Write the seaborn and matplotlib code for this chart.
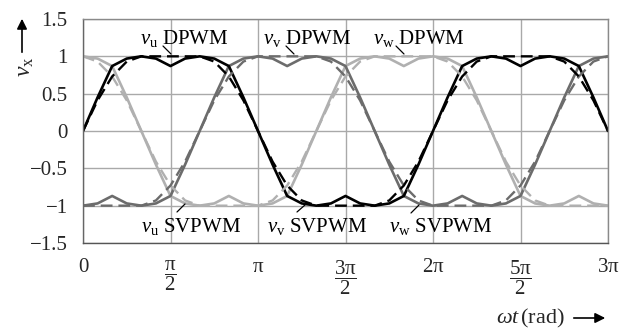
import numpy as np
import pandas as pd
import matplotlib
matplotlib.use("Agg")
import matplotlib.pyplot as plt
import seaborn as sns

angle_deg = list(range(0, 541, 15))

svpwm_u = [0, .45, .87, .97, 1, .97, .87, .97, 1, .97, .87, .45, 0, -.45, -.87, -.97, -1, -.97, -.87,
           -.97, -1, -.97, -.87, -.45, 0, .45, .87, .97, 1, .97, .87, .97, 1, .97, .87, .45, 0]
svpwm_v = [-1, -.97, -.87, -.97, -1, -.97, -.87, -.45, 0, .45, .87, .97, 1, .97, .87, .97, 1, .97, .87,
           .45, 0, -.45, -.87, -.97, -1, -.97, -.87, -.97, -1, -.97, -.87, -.45, 0, .45, .87, .97, 1]
svpwm_w = [1, .97, .87, .45, 0, -.45, -.87, -.97, -1, -.97, -.87, -.97, -1, -.97, -.87, -.45, 0, .45, .87,
           .97, 1, .97, .87, .97, 1, .97, .87, .45, 0, -.45, -.87, -.97, -1, -.97, -.87, -.97, -1]

dpwm_u = [0, .41, .73, .93, 1, 1, 1, 1, 1, .93, .73, .41, 0, -.41, -.73, -.93, -1, -1, -1,
          -1, -1, -.93, -.73, -.41, 0, .41, .73, .93, 1, 1, 1, 1, 1, .93, .73, .41, 0]
dpwm_v = [-1, -1, -1, -1, -1, -.93, -.73, -.41, 0, .41, .73, .93, 1, 1, 1, 1, 1, .93, .73,
          .41, 0, -.41, -.73, -.93, -1, -1, -1, -1, -1, -.93, -.73, -.41, 0, .41, .73, .93, 1]
dpwm_w = [1, .93, .73, .41, 0, -.41, -.73, -.93, -1, -1, -1, -1, -1, -.93, -.73, -.41, 0, .41, .73,
          .93, 1, 1, 1, 1, 1, .93, .73, .41, 0, -.41, -.73, -.93, -1, -1, -1, -1, -1]

phases = ["u", "v", "w"]
phase_colors = {"u": "#000000", "v": "#6c6c6c", "w": "#b0b0b0"}

xtick_vals = [0, 0.5, 1, 1.5, 2, 2.5, 3]          # multiples of pi
xtick_labels = [r"0", r"$\dfrac{\mathrm{π}}{\mathrm{2}}$", r"$\mathrm{π}$",
                r"$\dfrac{\mathrm{3π}}{\mathrm{2}}$", r"$\mathrm{2π}$",
                r"$\dfrac{\mathrm{5π}}{\mathrm{2}}$", r"$\mathrm{3π}$"]
ytick_vals = [-1.5, -1, -0.5, 0, 0.5, 1, 1.5]
ytick_labels = ["\u22121.5", "\u22121", "\u22120.5", "0", "0.5", "1", "1.5"]

# ---- styling ----
sns.set_style("white")
plt.rcParams["font.family"] = ["Liberation Serif", "DejaVu Serif"]
plt.rcParams["mathtext.fontset"] = "custom"
plt.rcParams["mathtext.rm"] = "Liberation Serif"
plt.rcParams["mathtext.it"] = "Liberation Serif:italic"
plt.rcParams["mathtext.bf"] = "Liberation Serif:bold"

W, H = 631, 330
fig = plt.figure(figsize=(W / 100, H / 100), dpi=100)
ax = fig.add_axes([83 / W, 1 - 243 / H, (608 - 83) / W, (243 - 19) / H])

x_rad = np.deg2rad(angle_deg)
svpwm = {"u": svpwm_u, "v": svpwm_v, "w": svpwm_w}
dpwm = {"u": dpwm_u, "v": dpwm_v, "w": dpwm_w}

rows = []
for p in phases:
    for xv, s, d in zip(x_rad, svpwm[p], dpwm[p]):
        rows.append({"x": xv, "y": s, "phase": p, "kind": "SVPWM"})
        rows.append({"x": xv, "y": d, "phase": p, "kind": "DPWM"})
df = pd.DataFrame(rows)

for p in ["w", "v", "u"]:
    sub = df[(df.phase == p) & (df.kind == "SVPWM")]
    sns.lineplot(data=sub, x="x", y="y", color=phase_colors[p], lw=1.9, ax=ax, sort=False)
for p in ["w", "v", "u"]:
    sub = df[(df.phase == p) & (df.kind == "DPWM")]
    sns.lineplot(data=sub, x="x", y="y", color=phase_colors[p], lw=1.7, ax=ax, sort=False,
                 linestyle=(0, (5, 2.5)))

ax.set_xlim(0, 3 * np.pi)
ax.set_ylim(-1.5, 1.5)
ax.set_xticks([v * np.pi for v in xtick_vals])
ax.set_xticklabels(xtick_labels)
ax.set_yticks(ytick_vals)
ax.set_yticklabels(ytick_labels)
ax.tick_params(axis="x", length=0, pad=11, labelsize=15)
ax.tick_params(axis="y", length=0, pad=11, labelsize=15)
ax.set_xlabel("")
ax.set_ylabel("")
ax.grid(True, color="#a9a9a9", lw=1.0)
ax.set_axisbelow(True)
for side, sp in ax.spines.items():
    sp.set_color("#8a8a8a")
    sp.set_linewidth(1.0)
ax.spines["bottom"].set_color("#555555")
ax.spines["left"].set_color("#666666")


def px(xp, yp):
    """pixel position in the reference -> figure fraction"""
    return (xp / W, 1 - yp / H)


def dpx(xp, yp):
    """pixel position -> data coordinates"""
    return ((xp - 83) / 175.0 * np.pi, 1.5 - (yp - 19) / 74.67)


# ---- annotations ----
labels = [
    (r"$\mathit{v}_{\mathrm{u}}$ DPWM", (140, 44), (163, 46), (171, 54)),
    (r"$\mathit{v}_{\mathrm{v}}$ DPWM", (263, 44), (286, 46), (294, 54)),
    (r"$\mathit{v}_{\mathrm{w}}$ DPWM", (373, 44), (396, 46), (404, 54)),
    (r"$\mathit{v}_{\mathrm{u}}$ SVPWM", (141, 232), (177, 212), (185, 204)),
    (r"$\mathit{v}_{\mathrm{v}}$ SVPWM", (267, 232), (297, 212), (305, 205)),
    (r"$\mathit{v}_{\mathrm{w}}$ SVPWM", (389, 232), (411, 213), (419, 205)),
]
for txt, tpos, l0, l1 in labels:
    ax.text(*dpx(*tpos), txt, fontsize=15, ha="left", va="baseline",
            color="black", zorder=5)
    ax.annotate("", xy=dpx(*l1), xytext=dpx(*l0),
                arrowprops=dict(arrowstyle="-", color="black", lw=0.9,
                                shrinkA=0, shrinkB=0), zorder=5)

# y-axis label with arrow
fig.text(*px(26, 67), r"$\mathit{v}_{\mathrm{x}}$", rotation=90, fontsize=17,
         ha="center", va="center")
fig.add_artist(matplotlib.patches.FancyArrowPatch(
    px(22, 55), px(22, 16), transform=fig.transFigure,
    arrowstyle="-|>", mutation_scale=15, color="black", lw=1.2))

# x-axis label with arrow
fig.text(*px(496, 323), r"$\mathit{ωt}\,$(rad)", fontsize=16, ha="left", va="baseline")
fig.add_artist(matplotlib.patches.FancyArrowPatch(
    px(571, 318), px(608, 318), transform=fig.transFigure,
    arrowstyle="-|>", mutation_scale=15, color="black", lw=1.2))

fig.savefig("out.png", dpi=100)
